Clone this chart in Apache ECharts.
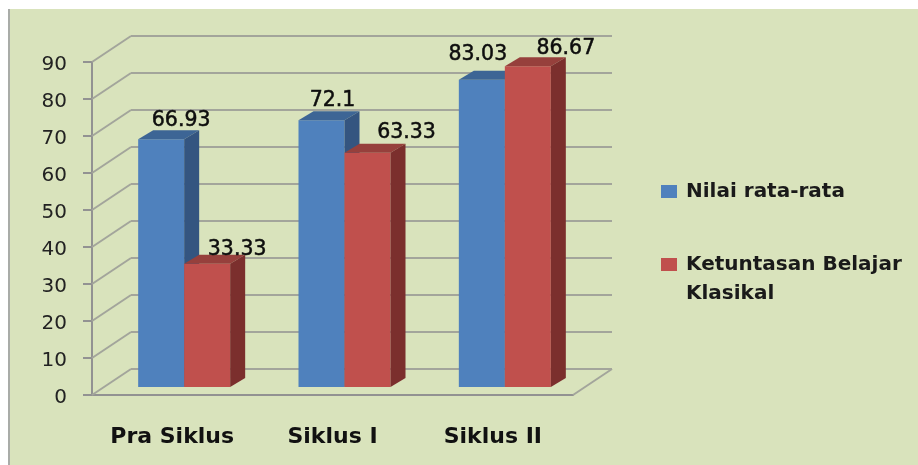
<!DOCTYPE html>
<html>
<head>
<meta charset="utf-8">
<title>Nilai rata-rata dan Ketuntasan Belajar Klasikal</title>
<style>
  html, body { margin: 0; padding: 0; background: #fff; }
  #main { width: 918px; height: 465px; }
</style>
<script src="https://cdn.jsdelivr.net/npm/echarts@6/dist/echarts.min.js"></script>
</head>
<body>
<div id="main"></div>
<script>
var categories = ['Pra Siklus', 'Siklus I', 'Siklus II']
var nilaiRataRata = [66.93, 72.1, 83.03]
var ketuntasanBelajar = [33.33, 63.33, 86.67]
var valueTicks = [0, 10, 20, 30, 40, 50, 60, 70, 80, 90]

// 3D look of the old office chart
var WALL_DX = 39
var WALL_DY = -26
var BAR_WIDTH = 46
var BAR_SHIFT_X = 12
var BAR_SHIFT_Y = -8
var BAR_DX = 15
var BAR_DY = -9
var LABEL_FONT = '20.5px "DejaVu Sans"'

// label position relative to the top centre of the bar front
var blueNudge = [[20, -19], [11, -20], [-4, -25]]
var redNudge = [[30, -14], [39, -20], [38, -18]]

function poly (points, fill) {
  return { type: 'polygon', shape: { points: points }, style: { fill: fill } }
}

function barRenderer (slot, front, top, side, nudge) {
  return function (params, api) {
    var i = api.value(0)
    var base = api.coord([i, 0])
    var head = api.coord([i, api.value(1)])
    var x0 = base[0] + BAR_SHIFT_X + (slot - 1) * BAR_WIDTH
    var x1 = x0 + BAR_WIDTH
    var y0 = base[1] + BAR_SHIFT_Y
    var y1 = head[1] + BAR_SHIFT_Y
    return {
      type: 'group',
      children: [
        poly([[x0, y0], [x1, y0], [x1, y1], [x0, y1]], front),
        poly([[x0, y1], [x1, y1], [x1 + BAR_DX, y1 + BAR_DY], [x0 + BAR_DX, y1 + BAR_DY]], top),
        poly([[x1, y0], [x1 + BAR_DX, y0 + BAR_DY], [x1 + BAR_DX, y1 + BAR_DY], [x1, y1]], side),
        {
          type: 'text',
          z2: 50,
          style: {
            text: String(api.value(1)),
            x: x0 + BAR_WIDTH / 2 + nudge[i][0],
            y: y1 + nudge[i][1],
            align: 'center',
            verticalAlign: 'middle',
            font: LABEL_FONT,
            fill: '#0d0d0d',
            stroke: '#0d0d0d',
            lineWidth: 0.5
          }
        }
      ]
    }
  }
}

// back wall lines and the diagonals that go to the value axis
function wallRenderer (params, api) {
  var v = api.value(0)
  var sys = params.coordSys
  var y = api.coord([0, v])[1]
  var line = { stroke: '#a3a59b', lineWidth: 2 }
  var children = [
    { type: 'line', shape: { x1: sys.x, y1: y, x2: sys.x + WALL_DX, y2: y + WALL_DY }, style: line },
    { type: 'line', shape: { x1: sys.x + WALL_DX, y1: y + WALL_DY, x2: sys.x + sys.width + WALL_DX, y2: y + WALL_DY }, style: line }
  ]
  if (v === 0) {
    children.push({ type: 'line', shape: { x1: sys.x + sys.width, y1: y, x2: sys.x + sys.width + WALL_DX, y2: y + WALL_DY }, style: line })
  }
  return { type: 'group', children: children }
}

var chart = echarts.init(document.getElementById('main'))
chart.setOption({
  animation: false,
  backgroundColor: '#ffffff',
  graphic: [
    { type: 'rect', z: -10, shape: { x: 8, y: 9, width: 910, height: 456 }, style: { fill: '#d9e3bc' } },
    { type: 'rect', z: -9, shape: { x: 8, y: 9, width: 2, height: 456 }, style: { fill: '#a9aca8' } }
  ],
  grid: { left: 92, top: 62, width: 481, height: 333 },
  legend: {
    orient: 'vertical',
    left: 661,
    top: 177,
    padding: 0,
    itemWidth: 16,
    itemHeight: 13,
    itemGap: 15,
    icon: 'rect',
    data: ['Nilai rata-rata', 'Ketuntasan Belajar Klasikal'],
    formatter: function (name) {
      return name === 'Nilai rata-rata' ? name : '\u00a0\nKetuntasan Belajar\nKlasikal'
    },
    textStyle: {
      fontFamily: 'DejaVu Sans',
      fontWeight: 'bold',
      fontSize: 20,
      lineHeight: 29,
      color: '#1a1a1a',
      padding: [0, 0, 0, 4]
    }
  },
  xAxis: {
    type: 'category',
    data: categories,
    axisLine: { lineStyle: { color: '#929292', width: 2 } },
    axisTick: { length: 10, lineStyle: { color: '#929292', width: 2 } },
    axisLabel: {
      interval: 0,
      hideOverlap: false,
      margin: 31,
      fontFamily: 'DejaVu Sans',
      fontWeight: 'bold',
      fontSize: 22,
      color: '#111'
    }
  },
  yAxis: {
    type: 'value',
    min: 0,
    max: 90,
    interval: 10,
    axisLine: { show: true, lineStyle: { color: '#929292', width: 2 } },
    axisTick: { show: true, length: 9, lineStyle: { color: '#929292', width: 2 } },
    splitLine: { show: false },
    axisLabel: {
      margin: 25,
      verticalAlign: 'top',
      lineHeight: 6,
      fontFamily: 'DejaVu Sans',
      fontSize: 20,
      color: '#222'
    }
  },
  series: [
    {
      type: 'custom',
      name: 'wall',
      silent: true,
      renderItem: wallRenderer,
      encode: { y: 0 },
      data: valueTicks.map(function (v) { return [v] })
    },
    {
      type: 'custom',
      name: 'Nilai rata-rata',
      itemStyle: { color: '#4f81bd' },
      renderItem: barRenderer(0, '#4f81bd', '#3d6595', '#345580', blueNudge),
      encode: { x: 0, y: 1 },
      data: nilaiRataRata.map(function (v, i) { return [i, v] })
    },
    {
      type: 'custom',
      name: 'Ketuntasan Belajar Klasikal',
      itemStyle: { color: '#c0504d' },
      renderItem: barRenderer(1, '#c0504d', '#96403c', '#7b2f2d', redNudge),
      encode: { x: 0, y: 1 },
      data: ketuntasanBelajar.map(function (v, i) { return [i, v] })
    }
  ]
})
</script>
</body>
</html>
